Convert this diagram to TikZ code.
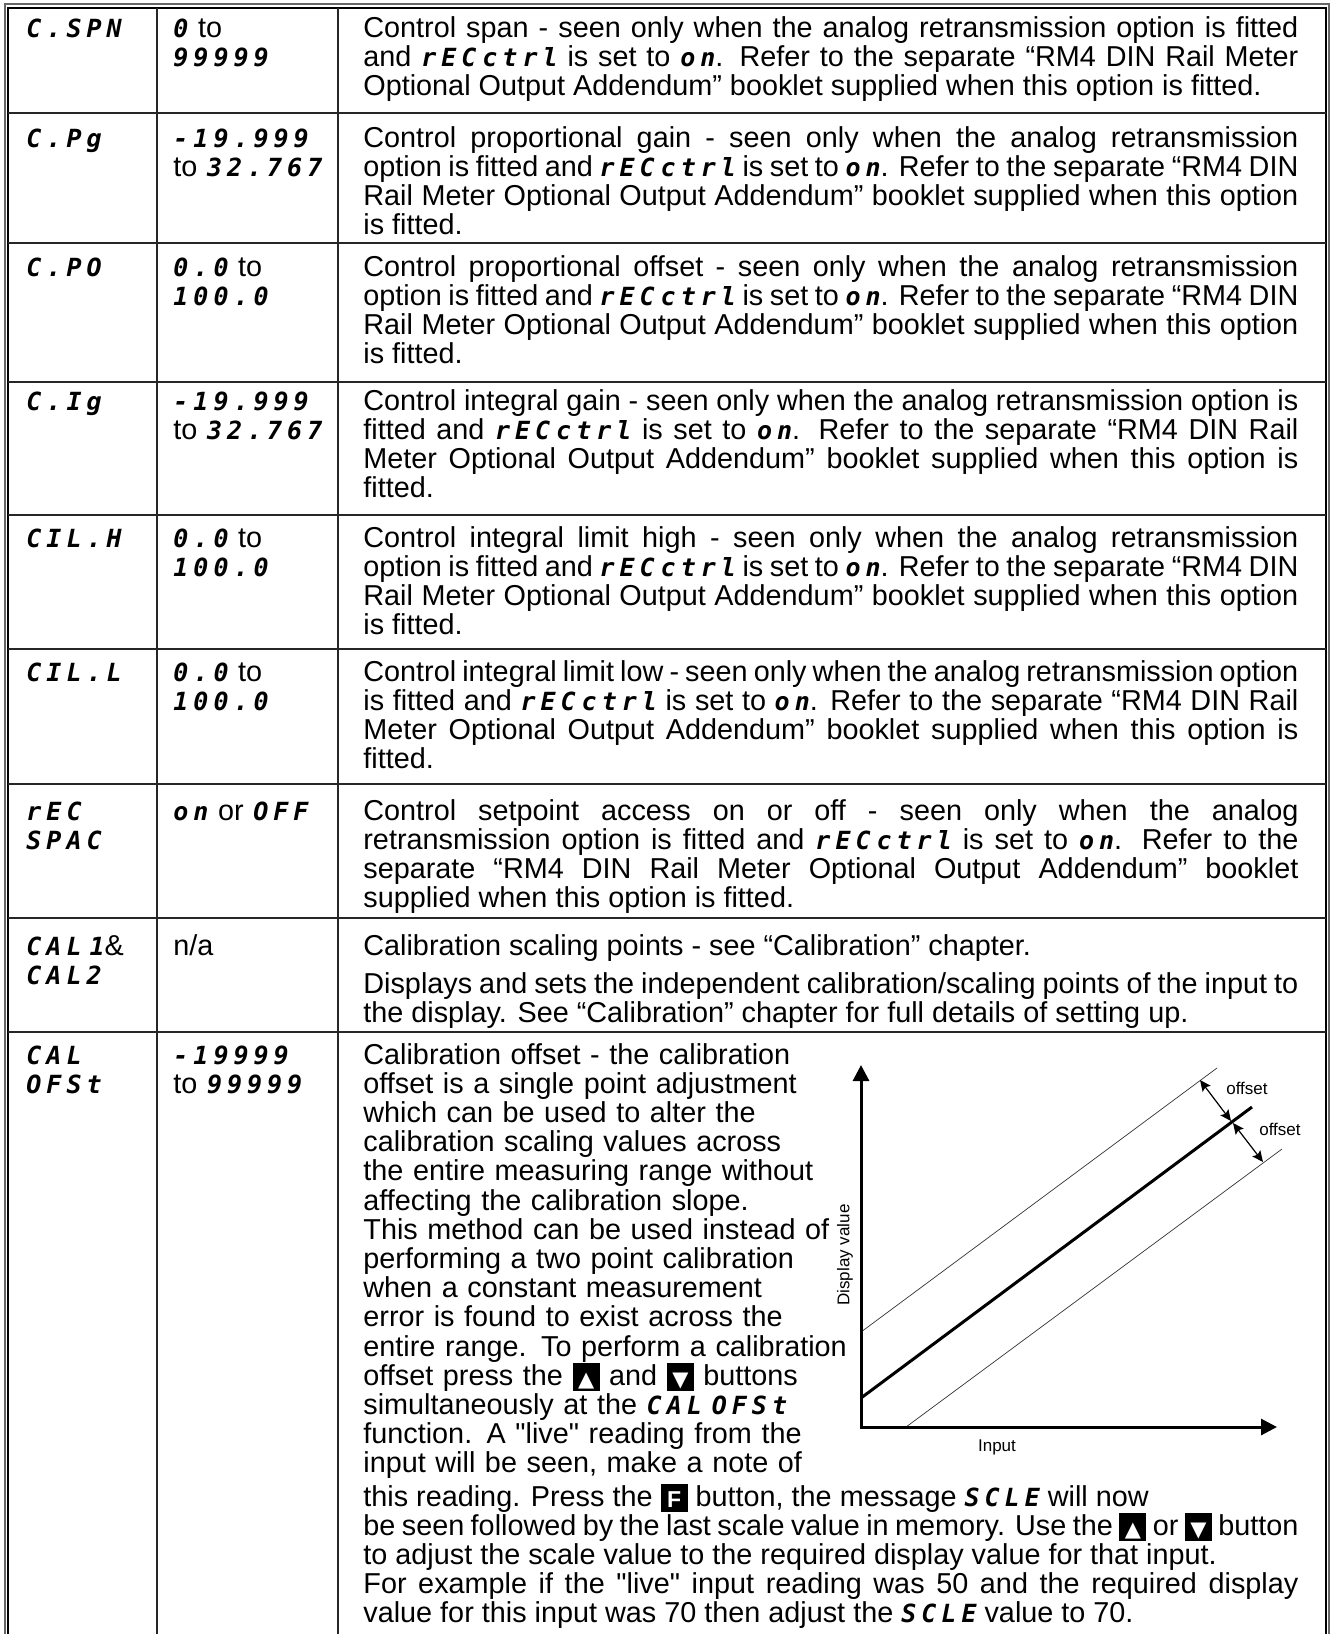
\documentclass[tikz,border=0pt]{standalone}
\usepackage{fontspec}
\usepackage{tikz}
\setmainfont{Liberation Sans}[Ligatures=TeXOff]
\newfontfamily\segfont[LetterSpace=20]{DejaVu Sans Mono}
\newfontfamily\symfont{DejaVu Sans}
\usetikzlibrary{arrows.meta, positioning}

\newcommand{\txtfont}{\fontsize{14.4}{14.6}\selectfont
  \spaceskip=0.278em plus 0.3em minus 0.12em
  \tolerance=9999 \hyphenpenalty=10000 \exhyphenpenalty=10000 }
\newcommand{\lblfont}{\fontsize{8.5}{10}\selectfont}
\newcommand{\seg}[1]{{\segfont\bfseries\itshape\fontsize{12.5}{12}\selectfont #1}}
\newcommand{\ctl}{\seg{rEC\hspace{3pt}ctrl}}
\newcommand{\segon}{\seg{on}}
\newcommand{\keybox}[1]{\raisebox{-3pt}{\rlap{\rule{13.5pt}{14pt}}\makebox[13.5pt]{\rule{0pt}{14pt}\raisebox{2.5pt}{\textcolor{white}{#1}}}}}
\newcommand{\upkey}{\keybox{\symfont\fontsize{10.5}{10}\selectfont ▲}}
\newcommand{\downkey}{\keybox{\symfont\fontsize{10.5}{10}\selectfont ▼}}
\newcommand{\fkey}{\keybox{\bfseries\fontsize{11.5}{11}\selectfont F}}

\tikzset{
    code/.style={anchor=base west, inner sep=0pt, text width=150pt, align=left, font=\txtfont},
    desc/.style={anchor=base west, inner sep=0pt, text width=467.5pt, align=justify, font=\txtfont},
    grid/.style={line width=0.7pt, black!85},
    lbl/.style={inner sep=0pt, font=\lblfont},
    axisarr/.style={line width=1.5pt, {Triangle[length=8pt,width=8pt]}-{Triangle[length=8pt,width=8pt]}},
    offarr/.style={line width=0.6pt, {Stealth[length=5.5pt,width=5pt,inset=1pt]}-{Stealth[length=5.5pt,width=5pt,inset=1pt]}},
    thinln/.style={line width=0.35pt, black!80},
    mainln/.style={line width=1.5pt}
}

\begin{document}
\begin{tikzpicture}[x=0.5pt, y=-0.5pt]
        \useasboundingbox (0,0) rectangle (1334,1634);

        % frame and rules
        \draw[black!60, line width=0.6pt] (5,1634) -- (5,4) -- (1329,4) -- (1329,1634);
        \draw[line width=0.7pt] (8,1634) -- (8,8) -- (1326,8) -- (1326,1634);
        \foreach \y in {113,243,382,515,649,784,918,1032}
            \draw[grid] (8,\y) -- (1326,\y);
        \draw[grid] (157,8) -- (157,1634)
            (338,8) -- (338,1634);

        % row 1
        \node[code] (code1) at (26,37) {\seg{C.SPN}};
        \node[code] (range1) at (173,37) {\seg{0} to\\\seg{99999}};
        \node[desc] (desc1) at (363,37) {Control span - seen only when the analog retransmission option is fitted\linebreak
            and \ctl\ is set to \segon. Refer to the separate “RM4 DIN Rail Meter\linebreak
            Optional Output Addendum” booklet supplied when this option is fitted.};

        % row 2
        \node[code] (code2) at (26,147) {\seg{C.Pg}};
        \node[code] (range2) at (173,147) {\seg{-19.999}\\to \seg{32.767}};
        \node[desc] (desc2) at (363,147) {Control proportional gain - seen only when the analog retransmission\linebreak
            option is fitted and \ctl\ is set to \segon. Refer to the separate “RM4 DIN\linebreak
            Rail Meter Optional Output Addendum” booklet supplied when this option\linebreak
            is fitted.};

        % row 3
        \node[code] (code3) at (26,276) {\seg{C.PO}};
        \node[code] (range3) at (173,276) {\seg{0.0} to\\\seg{100.0}};
        \node[desc] (desc3) at (363,276) {Control proportional offset - seen only when the analog retransmission\linebreak
            option is fitted and \ctl\ is set to \segon. Refer to the separate “RM4 DIN\linebreak
            Rail Meter Optional Output Addendum” booklet supplied when this option\linebreak
            is fitted.};

        % row 4
        \node[code] (code4) at (26,410) {\seg{C.Ig}};
        \node[code] (range4) at (173,410) {\seg{-19.999}\\to \seg{32.767}};
        \node[desc] (desc4) at (363,410) {Control integral gain - seen only when the analog retransmission option is\linebreak
            fitted and \ctl\ is set to \segon. Refer to the separate “RM4 DIN Rail\linebreak
            Meter Optional Output Addendum” booklet supplied when this option is\linebreak
            fitted.};

        % row 5
        \node[code] (code5) at (26,547) {\seg{CIL.H}};
        \node[code] (range5) at (173,547) {\seg{0.0} to\\\seg{100.0}};
        \node[desc] (desc5) at (363,547) {Control integral limit high - seen only when the analog retransmission\linebreak
            option is fitted and \ctl\ is set to \segon. Refer to the separate “RM4 DIN\linebreak
            Rail Meter Optional Output Addendum” booklet supplied when this option\linebreak
            is fitted.};

        % row 6
        \node[code] (code6) at (26,681) {\seg{CIL.L}};
        \node[code] (range6) at (173,681) {\seg{0.0} to\\\seg{100.0}};
        \node[desc] (desc6) at (363,681) {Control integral limit low - seen only when the analog retransmission option\linebreak
            is fitted and \ctl\ is set to \segon. Refer to the separate “RM4 DIN Rail\linebreak
            Meter Optional Output Addendum” booklet supplied when this option is\linebreak
            fitted.};

        % row 7
        \node[code] (code7) at (26,820) {\seg{rEC}\\\seg{SPAC}};
        \node[code] (range7) at (173,820) {\seg{on} or \seg{OFF}};
        \node[desc] (desc7) at (363,820) {Control setpoint access on or off - seen only when the analog\linebreak
            retransmission option is fitted and \ctl\ is set to \segon. Refer to the\linebreak
            separate “RM4 DIN Rail Meter Optional Output Addendum” booklet\linebreak
            supplied when this option is fitted.};

        % row 8
        \node[code] (code8) at (26,955) {\seg{CAL\hspace{4pt}1}\&\\\seg{CAL2}};
        \node[code] (range8) at (173,955) {n/a};
        \node[desc] (desc8) at (363,955) {Calibration scaling points - see “Calibration” chapter.};
        \node[desc] (desc8b) at (363,993) {Displays and sets the independent calibration/scaling points of the input to\linebreak
            the display. See “Calibration” chapter for full details of setting up.};

        % row 9
        \node[code] (code9) at (26,1064) {\seg{CAL}\\\seg{OFSt}};
        \node[code] (range9) at (173,1064) {\seg{-19999}\\to \seg{99999}};
        \node[code, text width=300pt] (desc9) at (363,1064) {Calibration offset - the calibration\\
            offset is a single point adjustment\\
            which can be used to alter the\\
            calibration scaling values across\\
            the entire measuring range without\\
            affecting the calibration slope.\\
            This method can be used instead of\\
            performing a two point calibration\\
            when a constant measurement\\
            error is found to exist across the\\
            entire range. To perform a calibration\\
            offset press the \upkey\ and \downkey\ buttons\\
            simultaneously at the \seg{CAL\hspace{5pt}OFSt}\\
            function. A "live" reading from the\\
            input will be seen, make a note of};
        \node[desc] (desc9b) at (363,1506) {this reading. Press the \fkey\ button, the message \seg{SCLE} will now\\
            be seen followed by the last scale value in memory. Use the \upkey\ or \downkey\ button\linebreak
            to adjust the scale value to the required display value for that input.\\
            For example if the "live" input reading was 50 and the required display\linebreak
            value for this input was 70 then adjust the \seg{SCLE} value to 70.};

        % offset graph
        \coordinate (orig) at (861,1427);
        \coordinate (ytop) at (861,1065);
        \coordinate (xend) at (1277,1427);
        \coordinate (m0) at (861,1398);
        \coordinate (m1) at (1252,1107);
        \coordinate (u0) at (861,1332);
        \coordinate (u1) at (1217,1068);
        \coordinate (l0) at (906,1427);
        \coordinate (l1) at (1282,1149);
        \coordinate (a0) at (1200,1080);
        \coordinate (a1) at (1231,1121);
        \coordinate (b0) at (1233,1123);
        \coordinate (b1) at (1263,1162);

        \draw[thinln] (u0) -- (u1);
        \draw[thinln] (l0) -- (l1);
        \draw[mainln] (m0) -- (m1);
        \draw[axisarr] (ytop) -- (orig) -- (xend);
        \draw[offarr] (a0) -- (a1);
        \draw[offarr] (b0) -- (b1);

        \node[lbl] (off1) at (1247,1088) {offset};
        \node[lbl] (off2) at (1280,1129) {offset};
        \node[lbl, rotate=90] (dispval) at (845,1255) {Display value};
        \node[lbl] (inlbl) at (997,1447) {Input};
    \end{tikzpicture}
\end{document}
